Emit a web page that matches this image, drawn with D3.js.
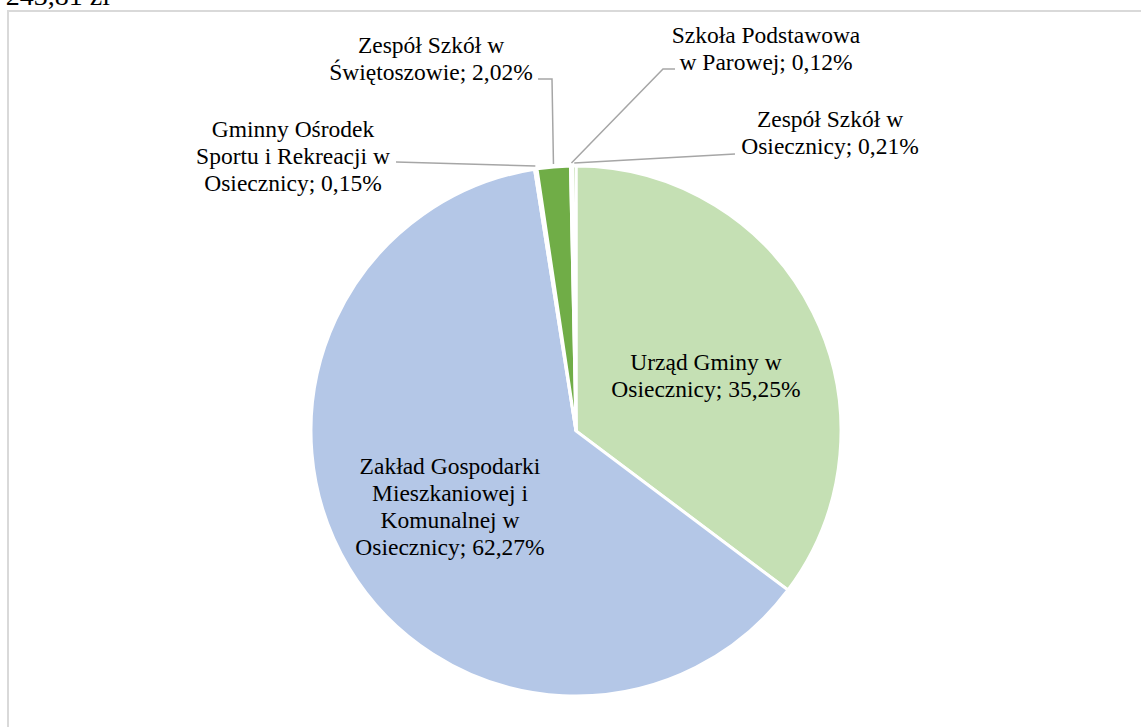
<!DOCTYPE html>
<html>
<head>
<meta charset="utf-8">
<script src="https://cdn.jsdelivr.net/npm/d3@7"></script>
<style>
  html, body { margin: 0; padding: 0; background: #fff; overflow: hidden; }
  svg { display: block; }
  text { font-family: "Liberation Serif", "Times New Roman", serif; fill: #000; }
</style>
</head>
<body>
<svg id="chart" width="1141" height="727"></svg>
<script>
// ---- data ----
const categories = [
  "Urząd Gminy w Osiecznicy",
  "Zakład Gospodarki Mieszkaniowej i Komunalnej w Osiecznicy",
  "Gminny Ośrodek Sportu i Rekreacji w Osiecznicy",
  "Zespół Szkół w Świętoszowie",
  "Szkoła Podstawowa w Parowej",
  "Zespół Szkół w Osiecznicy"
];
const values = [35.25, 62.27, 0.15, 2.02, 0.12, 0.21];
const labelLines = [
  ["Urząd Gminy w", "Osiecznicy; 35,25%"],
  ["Zakład Gospodarki", "Mieszkaniowej i", "Komunalnej w", "Osiecznicy; 62,27%"],
  ["Gminny Ośrodek", "Sportu i Rekreacji w", "Osiecznicy; 0,15%"],
  ["Zespół Szkół w", "Świętoszowie; 2,02%"],
  ["Szkoła Podstawowa", "w Parowej; 0,12%"],
  ["Zespół Szkół w", "Osiecznicy; 0,21%"]
];
const colors = ["#c5e0b4", "#b4c7e7", "#f8cbad", "#70ad47", "#ffe699", "#a9d18e"];
const titleText = "243,81 zł";

// ---- layout ----
const cx = 576, cy = 431, R = 265;
const fontSize = 23.5, lineH = 27;
// label centre x and first baseline y; leader start point and optional elbow
const labelPos = [
  { x: 706, y: 370 },
  { x: 450, y: 474 },
  { x: 293, y: 137, lead: [[396, 162]] },
  { x: 431, y: 52.5, lead: [[538, 79], [552, 79]] },
  { x: 766, y: 43, lead: [[675, 69], [663, 69]] },
  { x: 830, y: 127, lead: [[735, 154]] }
];

const svg = d3.select("#chart");

// chart border (extends past viewport right/bottom)
svg.append("rect")
  .attr("x", 8).attr("y", 11)
  .attr("width", 1200).attr("height", 800)
  .attr("fill", "none")
  .attr("stroke", "#d9d9d9")
  .attr("stroke-width", 2);

// title, mostly clipped at top
svg.append("text")
  .attr("x", 110).attr("y", 5)
  .attr("text-anchor", "end")
  .style("font-size", "28px")
  .text(titleText);

const pie = d3.pie().sort(null).value(d => d)
  .startAngle(0).endAngle(2 * Math.PI);
const arcs = pie(values);
const arc = d3.arc().innerRadius(0).outerRadius(R);
const edgeArc = d3.arc().innerRadius(R + 3).outerRadius(R + 3);

const g = svg.append("g").attr("transform", `translate(${cx},${cy})`);

g.selectAll("path.slice")
  .data(arcs)
  .join("path")
  .attr("class", "slice")
  .attr("d", arc)
  .attr("fill", (d, i) => colors[i])
  .attr("stroke", "#fff")
  .attr("stroke-width", 3)
  .attr("stroke-linejoin", "miter");

// leader lines
const line = d3.line();
arcs.forEach((d, i) => {
  const lp = labelPos[i];
  if (!lp.lead) return;
  const [ex, ey] = edgeArc.centroid(d);
  const pts = lp.lead.map(p => [p[0], p[1]]).concat([[cx + ex, cy + ey]]);
  svg.append("path")
    .attr("d", line(pts))
    .attr("fill", "none")
    .attr("stroke", "#a6a6a6")
    .attr("stroke-width", 1.5);
});

// labels
labelLines.forEach((lines, i) => {
  const lp = labelPos[i];
  const t = svg.append("text")
    .attr("text-anchor", "middle")
    .style("font-size", fontSize + "px");
  lines.forEach((s, k) => {
    t.append("tspan")
      .attr("x", lp.x)
      .attr("y", lp.y + k * lineH)
      .text(s);
  });
});
</script>
</body>
</html>
